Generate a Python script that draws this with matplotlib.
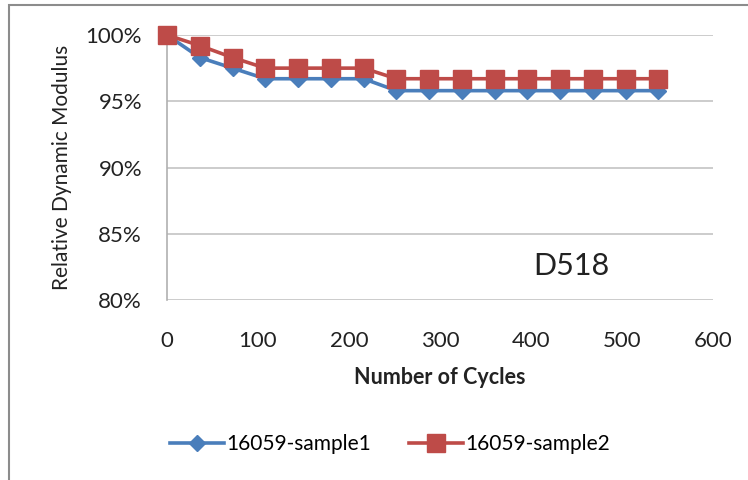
import matplotlib
matplotlib.use("Agg")
import matplotlib.pyplot as plt
from matplotlib.ticker import FuncFormatter
from matplotlib.patches import Rectangle

cycles = [0, 36, 72, 108, 144, 180, 216, 252, 288, 324, 360, 396, 432, 468, 504, 540]
sample1 = [100, 98.3, 97.5, 96.7, 96.7, 96.7, 96.7, 95.8, 95.8, 95.8, 95.8, 95.8, 95.8, 95.8, 95.8, 95.8]
sample2 = [100, 99.2, 98.3, 97.5, 97.5, 97.5, 97.5, 96.7, 96.7, 96.7, 96.7, 96.7, 96.7, 96.7, 96.7, 96.7]
label1 = "16059-sample1"
label2 = "16059-sample2"
xticks = [0, 100, 200, 300, 400, 500, 600]
yticks = [80, 85, 90, 95, 100]

plt.rcParams['font.family'] = ['Lato', 'DejaVu Sans']

fig = plt.figure(figsize=(7.48, 4.8), dpi=100)
W, H = 748, 480
# outer chart border
fig.patches.append(Rectangle((9 / W, -0.1), 1.2, 1 - 5 / H + 0.1, transform=fig.transFigure,
                             fill=False, edgecolor='#8c8c8c', linewidth=1.5))

ax = fig.add_axes([167 / W, 1 - 300 / H, (713 - 167) / W, (300 - 35) / H])
ax.plot(cycles, sample1, color='#4a7ebb', linewidth=2.6, marker='D', markersize=8.5,
        label=label1, zorder=3)
ax.plot(cycles, sample2, color='#be4b48', linewidth=2.6, marker='s', markersize=12.5,
        label=label2, zorder=4)

ax.set_xlim(0, 600)
ax.set_ylim(80, 100)
ax.set_xticks(xticks)
ax.set_yticks(yticks)
ax.yaxis.set_major_formatter(FuncFormatter(lambda v, p: f"{int(v)}%"))
ax.grid(axis='y', color='#c8c8c8', linewidth=1.3)
ax.set_axisbelow(True)
for s in ['top', 'right', 'bottom']:
    ax.spines[s].set_visible(False)
ax.spines['left'].set_color('#b0b0b0')
ax.spines['left'].set_linewidth(1.2)
ax.tick_params(length=0, labelsize=16, colors='#222222')
ax.tick_params(axis='x', pad=22)
ax.tick_params(axis='y', pad=18)
for ln in ax.lines:
    ln.set_clip_on(False)

ax.set_xlabel("Number of Cycles", fontsize=15.5, fontweight='bold', labelpad=12, color='#222222')
ax.set_ylabel("Relative Dynamic Modulus", fontsize=15, labelpad=10, color='#222222')

ax.text(444, 82.6, "D518", fontsize=22, ha='center', va='center', color='#222222')

fig.legend(loc='center', bbox_to_anchor=(390 / W, 1 - 444 / H), ncol=2, frameon=False,
           fontsize=15, handlelength=2.6, columnspacing=1.8, handletextpad=0.1)

fig.savefig("out.png", dpi=100)
